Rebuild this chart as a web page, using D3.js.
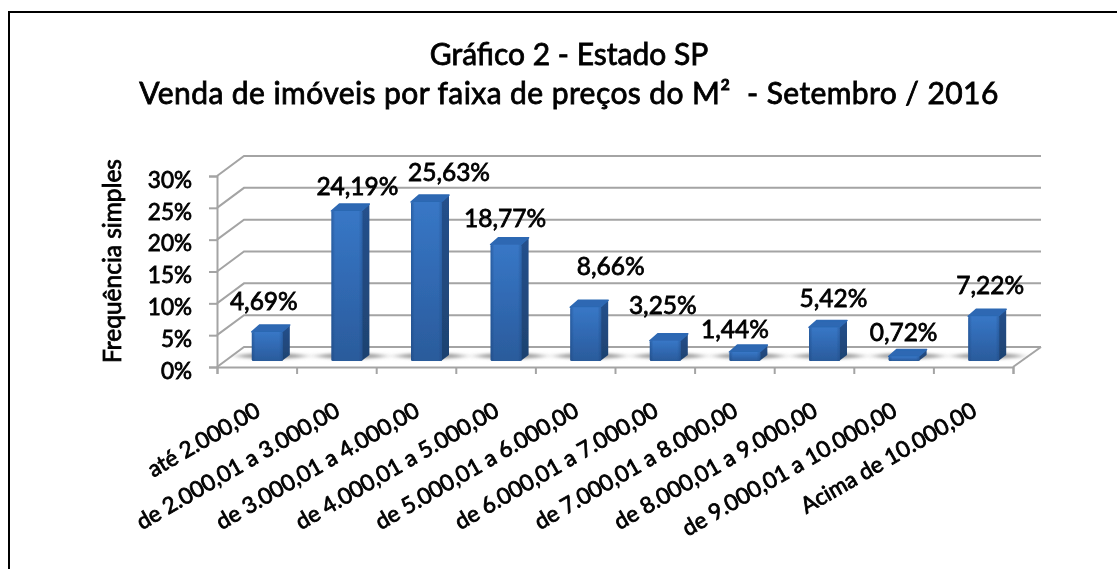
<!DOCTYPE html>
<html>
<head>
<meta charset="utf-8">
<script src="https://cdn.jsdelivr.net/npm/d3@7"></script>
<style>
    html, body { margin: 0; padding: 0; background: #fff; overflow: hidden; }
    svg { display: block; }
    /* no semibold Lato here, a hairline stroke gets the Calibri Bold look */
    text { font-family: Lato, Carlito, Calibri, sans-serif; fill: #000; stroke: #000; stroke-width: 0.8px; }
</style>
</head>
<body>
<svg id="chart" width="1117" height="569"></svg>
<script>
// values
var categories = ['até 2.000,00', 'de 2.000,01 a 3.000,00', 'de 3.000,01 a 4.000,00', 'de 4.000,01 a 5.000,00',
    'de 5.000,01 a 6.000,00', 'de 6.000,01 a 7.000,00', 'de 7.000,01 a 8.000,00', 'de 8.000,01 a 9.000,00',
    'de 9.000,01 a 10.000,00', 'Acima de 10.000,00']
var values = [4.69, 24.19, 25.63, 18.77, 8.66, 3.25, 1.44, 5.42, 0.72, 7.22]
var yTicks = [0, 5, 10, 15, 20, 25, 30]
var titleLines = ['Gráfico 2 - Estado SP', 'Venda de imóveis por faixa de preços do M²  - Setembro / 2016']
var yTitle = 'Frequência simples'

// the labels were moved by hand in the original, so these are just nudges from the bar top
var labelDx = [-3.5, 10.5, 22.5, -1, 25, -2.5, -10, 9, -0.5, 6.5]
var labelDy = [-22, -16, -21, -18, -32, -27, -14, -20, -15.5, -22]

var wall = { x: 27, y: -20 }   // offset of the back wall from the front axes
var depth = { x: 8, y: -7 }    // bar depth
var barWidth = 31
var colorGrid = '#a4a4a4'

var svg = d3.select('#chart')
var defs = svg.append('defs')

var soft = defs.append('filter').attr('id', 'soft')
soft.append('feGaussianBlur').attr('stdDeviation', 0.55)
var softer = defs.append('filter').attr('id', 'softer')
    .attr('x', '-30%').attr('width', '160%').attr('y', '-100%').attr('height', '300%')
softer.append('feGaussianBlur').attr('stdDeviation', '6 1.5')

function gradient(id, x2, y2, stops) {
    var g = defs.append('linearGradient').attr('id', id)
        .attr('x1', 0).attr('y1', 0).attr('x2', x2).attr('y2', y2)
    stops.forEach(s => g.append('stop').attr('offset', s[0]).attr('stop-color', s[1]))
}
gradient('front', 0, 1, [[0, '#3877c6'], [0.5, '#3069b2'], [1, '#2b5b9b']])
gradient('side', 0, 1, [[0, '#25508c'], [1, '#1e4270']])
gradient('edge', 1, 0, [[0, 'rgba(25,65,120,0.45)'], [0.12, 'rgba(25,65,120,0)'], [0.88, 'rgba(25,65,120,0)'], [1, 'rgba(25,65,120,0.35)']])

// frame, only top and left are visible in the crop
svg.append('path')
    .attr('d', 'M1117,12H9V569')
    .attr('fill', 'none').attr('stroke', '#000').attr('stroke-width', 2)

var g = svg.append('g').attr('filter', 'url(#soft)')

g.selectAll('text.title').data(titleLines).enter().append('text')
    .attr('class', 'title')
    .attr('x', 569)
    .attr('y', (d, i) => 65 + i * 39)
    .attr('text-anchor', 'middle')
    .attr('font-size', 30)
    .attr('letter-spacing', (d, i) => i ? 0.42 : 0)
    .style('white-space', 'pre')
    .text(d => d)

// scales
var y = d3.scaleLinear().domain([0, 30]).range([367, 176])
var yBar = d3.scaleLinear().domain([0, 30]).range([361, 175])
var x = d3.scaleBand().domain(categories).range([217, 1013])
var xTick = d3.scaleLinear().domain([0, categories.length]).range([217, 1013])

function barX(d) { return x(d) + x.bandwidth() / 2 + 10.5 - barWidth / 2 }

// walls
var grid = g.append('g').attr('fill', 'none').attr('stroke', colorGrid).attr('stroke-width', 2)
grid.selectAll('path.grid').data(yTicks).enter().append('path')
    .attr('class', 'grid')
    .attr('d', d => `M217,${y(d)}L${217 + wall.x},${y(d) + wall.y}H1041`)
grid.append('path')
    .attr('d', `M1013,367L1041,${367 + wall.y}`)

// axes
var yAxis = g.append('g')
    .attr('transform', 'translate(217,0)')
    .call(d3.axisLeft(y).tickValues(yTicks).tickSize(8).tickPadding(17).tickFormat(d => d + '%'))
yAxis.selectAll('line, path').attr('stroke', colorGrid).attr('stroke-width', 2)
yAxis.selectAll('text').attr('font-size', 22.5)
    .attr('fill', '#000').attr('dy', '0.5em')
yAxis.attr('font-family', null)

var xAxis = g.append('g')
    .attr('transform', 'translate(0,367)')
    .call(d3.axisBottom(xTick).ticks(categories.length).tickSize(7).tickFormat(''))
xAxis.selectAll('line, path').attr('stroke', colorGrid).attr('stroke-width', 2)

// bar shadows on the floor
g.selectAll('ellipse.shadow').data(categories).enter().append('ellipse')
    .attr('class', 'shadow')
    .attr('cx', d => barX(d) + barWidth / 2 + 4)
    .attr('cy', 356)
    .attr('rx', barWidth / 2 + 18)
    .attr('ry', 3)
    .attr('fill', '#a0a0a0')
    .attr('filter', 'url(#softer)')

var bars = g.selectAll('g.bar').data(categories).enter().append('g').attr('class', 'bar')

// side face
bars.append('path')
    .attr('fill', 'url(#side)')
    .attr('d', (d, i) => {
        var x1 = barX(d) + barWidth, t = yBar(values[i])
        return `M${x1 - 1},${t}L${x1 + depth.x - 1},${t + depth.y}V${361 + depth.y + 1}L${x1 - 1},361Z`
    })
// top face
bars.append('path')
    .attr('fill', '#2d68b3')
    .attr('stroke', '#2d68b3')
    .attr('stroke-width', 1.5)
    .attr('stroke-linejoin', 'round')
    .attr('d', (d, i) => {
        var x0 = barX(d), t = yBar(values[i])
        return `M${x0},${t}L${x0 + depth.x},${t + depth.y}H${x0 + barWidth + depth.x - 1}L${x0 + barWidth - 1},${t}Z`
    })
// front face
bars.append('rect')
    .attr('x', d => barX(d))
    .attr('y', (d, i) => yBar(values[i]))
    .attr('width', barWidth)
    .attr('height', (d, i) => yBar(0) - yBar(values[i]))
    .attr('rx', 1.5)
    .attr('fill', 'url(#front)')
bars.append('rect')
    .attr('x', d => barX(d))
    .attr('y', (d, i) => yBar(values[i]))
    .attr('width', barWidth)
    .attr('height', (d, i) => yBar(0) - yBar(values[i]))
    .attr('rx', 1.5)
    .attr('fill', 'url(#edge)')

// data labels
g.selectAll('text.value').data(values).enter().append('text')
    .attr('class', 'value')
    .attr('x', (d, i) => barX(categories[i]) + barWidth / 2 + labelDx[i])
    .attr('y', (d, i) => yBar(d) + labelDy[i])
    .attr('text-anchor', 'middle')
    .attr('font-size', 24.5)
    .text(d => d.toFixed(2).replace('.', ',') + '%')

// category labels
g.selectAll('text.cat').data(categories).enter().append('text')
    .attr('class', 'cat')
    .attr('text-anchor', 'end')
    .attr('font-size', 22.5)
    .attr('transform', d => `translate(${x(d) + x.bandwidth() / 2 + 5},415) rotate(-30)`)
    .text(d => d)

g.append('text')
    .attr('transform', 'translate(121,261) rotate(-90)')
    .attr('text-anchor', 'middle')
    .attr('font-size', 24.5)
    .text(yTitle)
</script>
</body>
</html>
